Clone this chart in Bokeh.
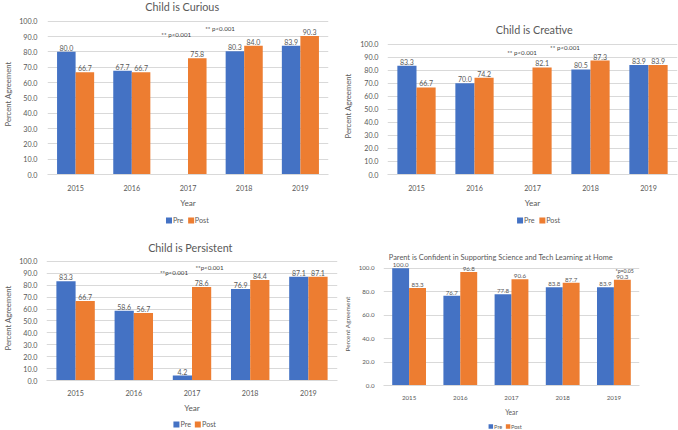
from bokeh.plotting import figure
from bokeh.models import (Range1d, FixedTicker, Label, LabelSet, ColumnDataSource,
                          NumeralTickFormatter)
from bokeh.layouts import column, row
from bokeh.core.properties import value
from bokeh.embed import file_html
from bokeh.resources import INLINE

# ---------------- data ----------------
years = ["2015", "2016", "2017", "2018", "2019"]
series_names = ["Pre", "Post"]

curious_pre = [80.0, 67.7, None, 80.3, 83.9]
curious_post = [66.7, 66.7, 75.8, 84.0, 90.3]
creative_pre = [83.3, 70.0, None, 80.5, 83.9]
creative_post = [66.7, 74.2, 82.1, 87.3, 83.9]
persistent_pre = [83.3, 58.6, 4.2, 76.9, 87.1]
persistent_post = [66.7, 56.7, 78.6, 84.4, 87.1]
parent_pre = [100.0, 76.7, 77.8, 83.8, 83.9]
parent_post = [83.3, 96.8, 90.6, 87.7, 90.3]

ticks_by_10 = [0, 10, 20, 30, 40, 50, 60, 70, 80, 90, 100]
ticks_by_20 = [0, 20, 40, 60, 80, 100]

titles = ["Child is Curious", "Child is Creative", "Child is Persistent",
          "Parent is Confident in Supporting Science and Tech Learning at Home"]
note_strong = "** p<0.001"
note_strong_tight = "**p<0.001"
note_weak = "*p=0.05"

FONT = "Lato"
BLUE = "#4472C4"
ORANGE = "#ED7D31"
GRAY = "#595959"
GRID = "#D9D9D9"
BAR_W = 0.33
Y_TOP = 105


def strip_fig(W, h):
    f = figure(width=W, height=h, x_range=Range1d(0, W), y_range=Range1d(0, h),
               x_axis_location=None, y_axis_location=None, min_border=0,
               output_backend="svg", toolbar_location=None, tools="")
    f.outline_line_color = None
    f.grid.visible = False
    return f


def title_fig(text, W, h, cx, cy, fs):
    f = strip_fig(W, h)
    f.text(x=[cx], y=[cy], text=[text], text_align="center", text_baseline="middle",
           text_font=value(FONT), text_font_size=value(fs), text_color=GRAY)
    return f


def legend_fig(W, h, sq_x, txt_x, cy, fs, sq):
    f = strip_fig(W, h)
    f.scatter(x=sq_x, y=[cy, cy], marker="square", size=sq,
              fill_color=[BLUE, ORANGE], line_color=None)
    f.text(x=txt_x, y=[cy, cy], text=series_names, text_align="left",
           text_baseline="middle", text_font=value(FONT), text_font_size=value(fs),
           text_color=GRAY)
    return f


def chart(pre, post, yticks, notes, W, H, bl, br, bb, tick_fs, axlab_fs, year_fs,
          data_fs, note_fs, ytick_so, ylab_so, xtick_so, year_so):
    p = figure(width=W, height=H, x_range=Range1d(0, 5), y_range=Range1d(0, Y_TOP),
               output_backend="svg", toolbar_location=None, tools="",
               min_border_left=bl, min_border_right=br,
               min_border_top=0, min_border_bottom=bb)
    p.outline_line_color = None

    centers = [i + 0.5 for i in range(len(years))]
    xp = [c - BAR_W / 2 for c, v in zip(centers, pre) if v is not None]
    vp = [v for v in pre if v is not None]
    xq = [c + BAR_W / 2 for c, v in zip(centers, post) if v is not None]
    vq = [v for v in post if v is not None]

    sp = ColumnDataSource(dict(x=xp, y=vp, t=[f"{v:.1f}" for v in vp]))
    sq = ColumnDataSource(dict(x=xq, y=vq, t=[f"{v:.1f}" for v in vq]))
    p.vbar(x="x", top="y", width=BAR_W, source=sp, fill_color=BLUE, line_color=None)
    p.vbar(x="x", top="y", width=BAR_W, source=sq, fill_color=ORANGE, line_color=None)

    for s in (sp, sq):
        p.add_layout(LabelSet(x="x", y="y", text="t", source=s, text_align="center",
                              text_baseline="bottom", y_offset=1,
                              text_font=value(FONT), text_font_size=value(data_fs),
                              text_color=value(GRAY)))

    for (nx, ny, nt) in notes:
        p.add_layout(Label(x=nx, y=ny, text=nt, text_align="center", text_baseline="middle",
                           text_font=FONT, text_font_size=note_fs, text_color="#404040"))

    p.xaxis.ticker = FixedTicker(ticks=centers)
    p.xaxis.major_label_overrides = {c: y for c, y in zip(centers, years)}
    p.xaxis.axis_line_color = GRID
    p.xaxis.major_tick_line_color = None
    p.xaxis.minor_tick_line_color = None
    p.xaxis.major_label_text_font = FONT
    p.xaxis.major_label_text_font_size = tick_fs
    p.xaxis.major_label_text_color = GRAY
    p.xaxis.major_label_standoff = xtick_so
    p.xaxis.axis_label = "Year"
    p.xaxis.axis_label_text_font = FONT
    p.xaxis.axis_label_text_font_size = year_fs
    p.xaxis.axis_label_text_font_style = "normal"
    p.xaxis.axis_label_text_color = GRAY
    p.xaxis.axis_label_standoff = year_so
    p.xgrid.grid_line_color = None

    p.yaxis.ticker = FixedTicker(ticks=yticks)
    p.yaxis.formatter = NumeralTickFormatter(format="0.0")
    p.yaxis.axis_line_color = None
    p.yaxis.major_tick_line_color = None
    p.yaxis.minor_tick_line_color = None
    p.yaxis.major_label_text_font = FONT
    p.yaxis.major_label_text_font_size = tick_fs
    p.yaxis.major_label_text_color = GRAY
    p.yaxis.major_label_standoff = ytick_so
    p.yaxis.axis_label = "Percent Agreement"
    p.yaxis.axis_label_text_font = FONT
    p.yaxis.axis_label_text_font_size = axlab_fs
    p.yaxis.axis_label_text_font_style = "normal"
    p.yaxis.axis_label_text_color = GRAY
    p.yaxis.axis_label_standoff = ylab_so
    p.ygrid.grid_line_color = GRID
    p.ygrid.grid_line_width = 1
    return p


# Panel 1: Child is Curious
t1 = title_fig(titles[0], 340, 13, 163, 7, "10.8px")
c1 = chart(curious_pre, curious_post, ticks_by_10,
           [(2.29, 91.1, note_strong), (3.07, 94.9, note_strong)],
           W=340, H=197, bl=35, br=12, bb=31, tick_fs="7.2px", axlab_fs="7.7px",
           year_fs="8.2px", data_fs="7px", note_fs="6.2px",
           ytick_so=4, ylab_so=3, xtick_so=4, year_so=4)
l1 = legend_fig(340, 20, [147, 173.8], [151.7, 178.3], 10, "7.2px", 6)

# Panel 2: Child is Creative
t2 = title_fig(titles[1], 338, 37, 171, 8, "10.8px")
c2 = chart(creative_pre, creative_post, ticks_by_10,
           [(2.32, 93.6, note_strong), (3.06, 97.3, note_strong)],
           W=338, H=173, bl=40, br=1, bb=31, tick_fs="7.2px", axlab_fs="7.7px",
           year_fs="8.2px", data_fs="7px", note_fs="6.2px",
           ytick_so=3, ylab_so=4, xtick_so=4, year_so=4)
l2 = legend_fig(338, 20, [154.5, 180.5], [159, 185], 10, "7.2px", 6)

# Panel 3: Child is Persistent
t3 = title_fig(titles[2], 340, 25, 168, 8, "10.8px")
c3 = chart(persistent_pre, persistent_post, ticks_by_10,
           [(2.19, 90.6, note_strong_tight), (2.80, 94.7, note_strong_tight)],
           W=340, H=160, bl=33, br=3, bb=29, tick_fs="7.2px", axlab_fs="7.7px",
           year_fs="8.2px", data_fs="7px", note_fs="6.2px",
           ytick_so=3, ylab_so=3, xtick_so=3, year_so=4)
l3 = legend_fig(340, 15, [151.8, 176.8], [156.7, 181.7], 6, "7.2px", 6)

# Panel 4: Parent is Confident
t4 = title_fig(titles[3], 338, 32, 155, 5, "7.4px")
c4 = chart(parent_pre, parent_post, ticks_by_20,
           [(4.71, 97.5, note_weak)],
           W=338, H=156, bl=42, br=39, bb=28, tick_fs="6.2px", axlab_fs="6.5px",
           year_fs="6.7px", data_fs="6.2px", note_fs="5.2px",
           ytick_so=3, ylab_so=5, xtick_so=4, year_so=5)
l4 = legend_fig(338, 12, [141.7, 164.5], [146, 168.3], 4, "5.6px", 4.5)

layout = column(row(column(t1, c1, l1), column(t2, c2, l2)),
                row(column(t3, c3, l3), column(t4, c4, l4)))
open("out.html", "w").write(file_html(layout, INLINE))
